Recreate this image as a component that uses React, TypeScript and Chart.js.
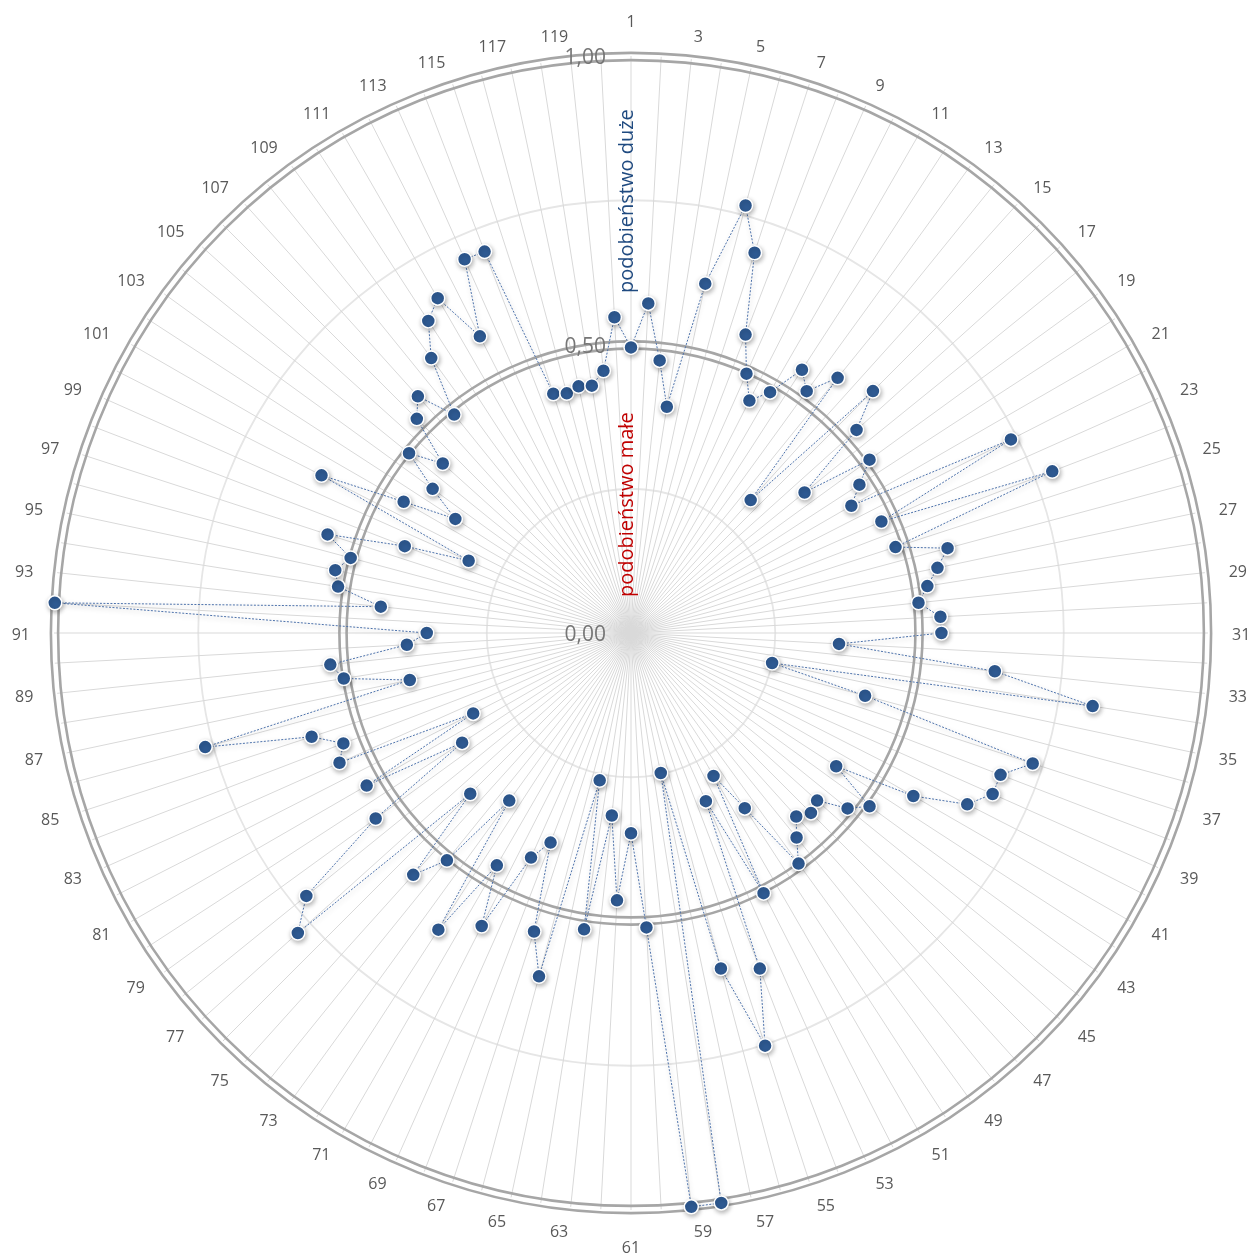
import React, { useEffect, useRef } from 'react';
import { Chart, registerables } from 'chart.js';

Chart.register(...registerables);

// ---- data ----
const categories: string[] = [
  '1', '2', '3', '4', '5', '6', '7', '8', '9', '10',
  '11', '12', '13', '14', '15', '16', '17', '18', '19', '20',
  '21', '22', '23', '24', '25', '26', '27', '28', '29', '30',
  '31', '32', '33', '34', '35', '36', '37', '38', '39', '40',
  '41', '42', '43', '44', '45', '46', '47', '48', '49', '50',
  '51', '52', '53', '54', '55', '56', '57', '58', '59', '60',
  '61', '62', '63', '64', '65', '66', '67', '68', '69', '70',
  '71', '72', '73', '74', '75', '76', '77', '78', '79', '80',
  '81', '82', '83', '84', '85', '86', '87', '88', '89', '90',
  '91', '92', '93', '94', '95', '96', '97', '98', '99', '100',
  '101', '102', '103', '104', '105', '106', '107', '108', '109', '110',
  '111', '112', '113', '114', '115', '116', '117', '118', '119', '120',
];

const similarity: number[] = [
  0.495, 0.572, 0.475, 0.397, 0.619, 0.767, 0.693, 0.554, 0.492, 0.452,
  0.482, 0.544, 0.518, 0.569, 0.310, 0.593, 0.526, 0.387, 0.511, 0.472,
  0.441, 0.739, 0.475, 0.782, 0.482, 0.568, 0.543, 0.520, 0.501, 0.537,
  0.538, 0.361, 0.634, 0.810, 0.250, 0.420, 0.732, 0.686, 0.686, 0.654,
  0.565, 0.424, 0.511, 0.483, 0.434, 0.441, 0.428, 0.456, 0.494, 0.362,
  0.286, 0.506, 0.319, 0.623, 0.752, 0.602, 0.248, 1.000, 1.000, 0.511,
  0.347, 0.464, 0.318, 0.520, 0.261, 0.616, 0.544, 0.389, 0.426, 0.570,
  0.465, 0.613, 0.359, 0.507, 0.564, 0.394, 0.777, 0.724, 0.547, 0.349,
  0.529, 0.307, 0.553, 0.534, 0.582, 0.764, 0.392, 0.504, 0.524, 0.389,
  0.354, 1.000, 0.436, 0.514, 0.524, 0.503, 0.553, 0.420, 0.308, 0.602,
  0.455, 0.363, 0.425, 0.495, 0.439, 0.525, 0.552, 0.487, 0.589, 0.645,
  0.670, 0.577, 0.709, 0.708, 0.436, 0.430, 0.437, 0.434, 0.457, 0.548,
];

const labelledTicks: number[] = [0, 0.5, 1];
const emphasisRings: number[] = [0.5, 1];
const titleHigh = 'podobieństwo duże';
const titleLow = 'podobieństwo małe';

// ---- layout (canvas coordinates) ----
const CANVAS = 1320;
const OFFSET = 30;
const CX = 631 + OFFSET;
const CY = 633 + OFFSET;
const RADIUS = 577;

const fmt = (v: number) => v.toFixed(2).replace('.', ',');

const decorPlugin = {
  id: 'decor',
  beforeDatasetsDraw(chart: any) {
    const s = chart.scales.r;
    const ctx = chart.ctx as CanvasRenderingContext2D;
    ctx.save();
    // double rings
    ctx.strokeStyle = '#a6a6a6';
    ctx.lineWidth = 2.6;
    for (const v of emphasisRings) {
      const d = s.getDistanceFromCenterForValue(v) - 0.5;
      for (const off of [-3.6, 3.6]) {
        ctx.beginPath();
        ctx.arc(s.xCenter, s.yCenter, d + off, 0, Math.PI * 2);
        ctx.stroke();
      }
    }
    // value labels
    ctx.font = '21px "Open Sans"';
    ctx.fillStyle = '#767676';
    ctx.textAlign = 'right';
    ctx.textBaseline = 'middle';
    for (const t of s.ticks) {
      if (labelledTicks.includes(t.value)) {
        ctx.fillText(fmt(t.value), s.xCenter - 25, s.yCenter - s.getDistanceFromCenterForValue(t.value) + 2.5);
      }
    }
    // category labels (odd numbers only)
    ctx.font = '16px "Open Sans"';
    ctx.fillStyle = '#595959';
    ctx.textBaseline = 'middle';
    categories.forEach((lab, i) => {
      if (i % 2 !== 0) return;
      const p = s.getPointPosition(i, s.drawingArea + 24);
      const deg = (i * 360) / categories.length;
      let align: CanvasTextAlign = 'center';
      let dy = 0;
      if (deg === 0) dy = -11.5;
      else if (deg === 180) dy = 12.5;
      else align = deg < 180 ? 'left' : 'right';
      ctx.textAlign = align;
      ctx.fillText(lab, p.x, p.y + dy + 2);
    });
    // axis titles (vertical)
    ctx.font = '20px "Open Sans"';
    ctx.textAlign = 'left';
    ctx.textBaseline = 'alphabetic';
    const drawV = (text: string, color: string, startDist: number) => {
      ctx.save();
      ctx.translate(s.xCenter + 2, s.yCenter - startDist);
      ctx.rotate(-Math.PI / 2);
      ctx.fillStyle = color;
      ctx.fillText(text, 0, 0);
      ctx.restore();
    };
    drawV(titleHigh, '#1f4a80', 340);
    drawV(titleLow, '#c00000', 36);
    ctx.restore();
  },
  beforeDatasetDraw(chart: any) {
    const c = chart.ctx as CanvasRenderingContext2D;
    c.save();
    c.shadowColor = 'rgba(0,0,0,0.3)';
    c.shadowBlur = 5;
    c.shadowOffsetX = 1;
    c.shadowOffsetY = 2;
  },
  afterDatasetDraw(chart: any) {
    chart.ctx.restore();
  },
};

export default function App() {
  const ref = useRef<HTMLCanvasElement>(null);
  useEffect(() => {
    if (!ref.current) return;
    const chart = new Chart(ref.current, {
      type: 'radar',
      data: {
        labels: categories,
        datasets: [
          {
            data: similarity,
            borderColor: '#4d72ab',
            borderWidth: 1,
            borderDash: [2, 1.5],
            backgroundColor: 'rgba(0,0,0,0)',
            fill: false,
            pointRadius: 7,
            pointBackgroundColor: '#2f5b94',
            pointBorderColor: '#ffffff',
            pointBorderWidth: 1.5,
          },
        ],
      },
      options: {
        responsive: false,
        animation: false,
        plugins: { legend: { display: false }, tooltip: { enabled: false } },
        layout: { padding: 0 },
        scales: {
          r: {
            min: 0,
            max: 1,
            afterSetDimensions: (s: any) => {
              s.xCenter = CX;
              s.yCenter = CY;
              s.drawingArea = RADIUS;
            },
            ticks: { display: false, stepSize: 0.25 },
            grid: {
              circular: true,
              color: (c: any) =>
                c.tick && emphasisRings.includes(c.tick.value) ? 'rgba(0,0,0,0)' : '#e6e6e6',
              lineWidth: 1.8,
            },
            angleLines: { color: '#d9d9d9', lineWidth: 1 },
            pointLabels: { display: false },
          },
        },
      } as any,
      plugins: [decorPlugin],
    });
    return () => chart.destroy();
  }, []);
  return (
    <div
      style={{
        position: 'absolute',
        left: 0,
        top: 0,
        width: 1250,
        height: 1253,
        overflow: 'hidden',
        background: '#ffffff',
      }}
    >
      <canvas
        ref={ref}
        width={CANVAS}
        height={CANVAS}
        style={{ position: 'absolute', left: -OFFSET, top: -OFFSET, width: CANVAS, height: CANVAS }}
      />
    </div>
  );
}
